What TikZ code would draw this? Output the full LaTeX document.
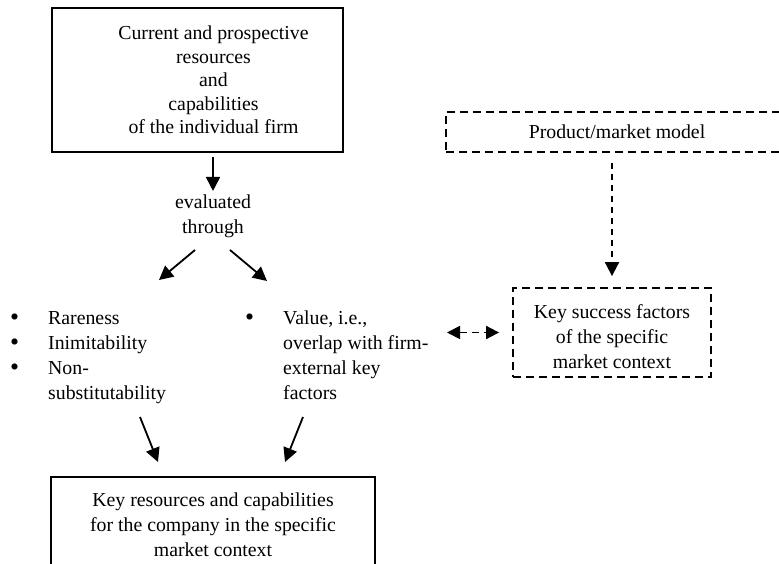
\documentclass[tikz,border=0pt]{standalone}
\usepackage{fontspec}
\setmainfont{Liberation Serif}
\usetikzlibrary{arrows.meta}
\newcommand\diagfont{\fontsize{19.8}{25}\selectfont}
\newcommand\blt{\raisebox{-1.5pt}{\scalebox{1.3}{\textbullet}}}
\begin{document}
\begin{tikzpicture}[x=1pt,y=-1pt,
  every node/.style={font=\diagfont},
  solidbox/.style={draw,line width=2pt,inner sep=0pt,align=center},
  dashbox/.style={draw,line width=1.8pt,dash pattern=on 8pt off 5pt,inner sep=0pt,align=center},
  arr/.style={line width=1.8pt,-{Triangle[length=14pt,width=14pt]}},
  darr/.style={line width=1.8pt,dash pattern=on 6pt off 5pt,-{Triangle[length=14pt,width=14pt]}},
  biarr/.style={line width=1.8pt,dash pattern=on 7pt off 5pt,
    {Triangle[length=13pt,width=13pt]}-{Triangle[length=13pt,width=13pt]}},
  listnode/.style={anchor=base west,inner sep=0pt}
]
\useasboundingbox (0,0) rectangle (779,564);

% firm-internal side: the text block sits a little right of the box centre
\node[solidbox,minimum width=291pt,minimum height=144pt] (firm) at (197.5,80)
  {\begin{minipage}[c][144pt][c]{291pt}
     \fontsize{19.8}{23.5}\selectfont
     \centering\leftskip=32pt plus 1fil
     Current and prospective\\resources\\and\\capabilities\\of the individual firm
   \end{minipage}};
\node[align=center] (eval) at (213,216) {evaluated\\through};

\node[listnode] (vrin) at (10,324)
  {\begin{tabular}[t]{@{}p{38pt}@{}l@{}}
    \blt & Rareness\\
    \blt & Inimitability\\
    \blt & Non-\\
         & substitutability
   \end{tabular}};
\node[listnode] (value) at (245,324)
  {\begin{tabular}[t]{@{}p{38pt}@{}l@{}}
    \blt & Value, i.e.,\\
         & overlap with firm-\\
         & external key\\
         & factors
   \end{tabular}};

\node[solidbox,minimum width=324pt,minimum height=96pt] (key) at (213,525)
  {Key resources and capabilities\\for the company in the specific\\market context};

% market side
\node[dashbox,minimum width=342pt,minimum height=40pt] (pmm) at (617,132)
  {Product/market model};
\node[dashbox,minimum width=198pt,minimum height=89pt] (ksf) at (612,332.5)
  {\begin{minipage}[c][89pt][c]{198pt}
     \centering\vspace*{9pt}
     Key success factors\\of the specific\\market context
   \end{minipage}};

% connector end points
\coordinate (e1) at (195,250);
\coordinate (e2) at (230,250);
\coordinate (l1) at (159,280);
\coordinate (r1) at (267,281);
\coordinate (l2) at (140,417);
\coordinate (r2) at (303,417);
\coordinate (k1) at (158,462);
\coordinate (k2) at (285,462);
\coordinate (vl) at (447,332.5);

% connectors
\draw[arr] ([yshift=-4pt]firm.south -| eval.north) -- (eval.north);
\draw[arr] (e1) -- (l1);
\draw[arr] (e2) -- (r1);
\draw[arr] (l2) -- (k1);
\draw[arr] (r2) -- (k2);
\draw[darr] ([yshift=-10pt]pmm.south -| ksf.north) -- ([yshift=11pt]ksf.north);
\draw[biarr] (vl) -- ([xshift=-13pt]ksf.west);
\end{tikzpicture}
\end{document}
